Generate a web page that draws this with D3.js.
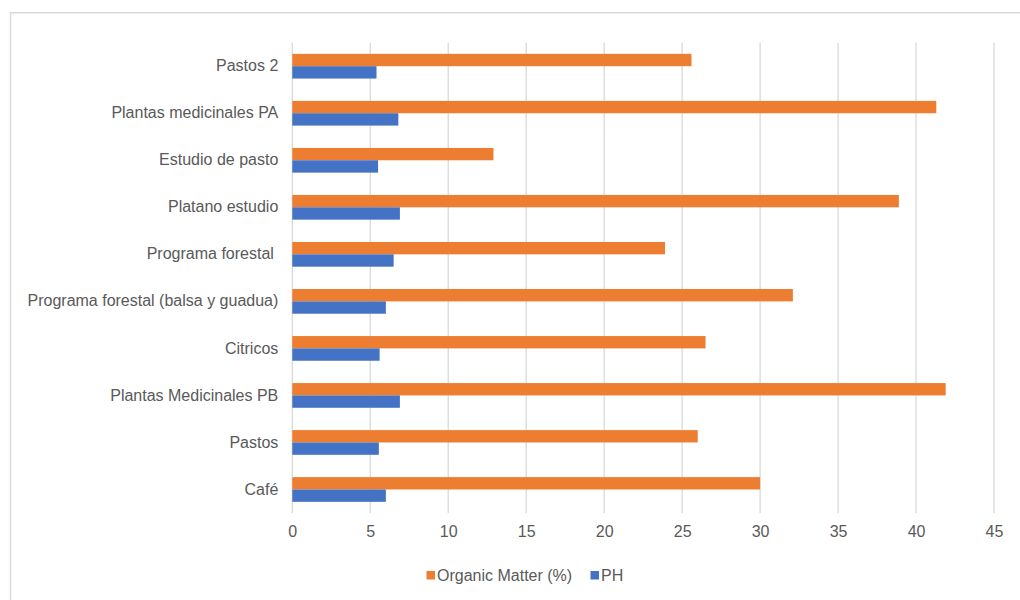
<!DOCTYPE html>
<html><head><meta charset="utf-8">
<script src="https://cdn.jsdelivr.net/npm/d3@7"></script>
<style>body{margin:0;background:#fff}svg text{font-family:"Liberation Sans",Arial,sans-serif;fill:#595959;white-space:pre}</style>
</head><body><svg id="c" width="1020" height="600"></svg>
<script>
const categories = ["Pastos 2","Plantas medicinales PA","Estudio de pasto","Platano estudio","Programa forestal ","Programa forestal (balsa y guadua)","Citricos","Plantas Medicinales PB","Pastos","Café"];
const organicMatter = [25.6, 41.3, 12.9, 38.9, 23.9, 32.1, 26.5, 41.9, 26.0, 30.0];
const ph = [5.4, 6.8, 5.5, 6.9, 6.5, 6.0, 5.6, 6.9, 5.55, 6.0];
const xTicks = [0,5,10,15,20,25,30,35,40,45];
const seriesNames = ["Organic Matter (%)","PH"];
const colors = ["#ED7D31","#4472C4"];

const svg = d3.select("#c");
svg.append("rect").attr("x",10.5).attr("y",12.7).attr("width",1030).attr("height",620)
  .attr("fill","none").attr("stroke","#d9d9d9").attr("stroke-width",1.5);

const x = d3.scaleLinear().domain([0,45]).range([292.3,994]);
const y = d3.scaleBand().domain(categories).range([42.7,513]);
const inner = d3.scaleBand().domain(seriesNames).range([0,24.7]);

// gridlines
svg.append("g").selectAll("line").data(xTicks).join("line")
  .attr("x1",d=>x(d)).attr("x2",d=>x(d)).attr("y1",42.7).attr("y2",513)
  .attr("stroke","#d9d9d9").attr("stroke-width",1.3);

// bars
const series = [organicMatter, ph];
series.forEach((vals,si)=>{
  svg.append("g").selectAll("rect").data(vals).join("rect")
    .attr("x",x(0)).attr("width",d=>x(d)-x(0))
    .attr("y",(d,i)=>y(categories[i])+y.bandwidth()/2-12.35+inner(seriesNames[si]))
    .attr("height",inner.bandwidth())
    .attr("fill",colors[si]);
});

// x axis labels
const xa = d3.axisBottom(x).tickValues(xTicks).tickSize(0).tickPadding(0);
const gx = svg.append("g").attr("transform","translate(0,526)").call(xa);
gx.select(".domain").remove();
gx.selectAll("text").attr("font-size",16).attr("dy","0.71em");

// y axis labels
const ya = d3.axisLeft(y).tickSize(0).tickPadding(14);
const gy = svg.append("g").attr("transform","translate(292.3,0)").call(ya);
gy.select(".domain").remove();
gy.selectAll("text").attr("font-size",16);

// legend
const leg = svg.append("g");
const legX = [426.5, 590.5];
seriesNames.forEach((n,i)=>{
  leg.append("rect").attr("x",legX[i]).attr("y",571).attr("width",8.5).attr("height",8.5).attr("fill",colors[i]);
  leg.append("text").attr("x",legX[i]+10.5).attr("y",575.5).attr("dy","0.35em").attr("font-size",16).text(n);
});
</script></body></html>
